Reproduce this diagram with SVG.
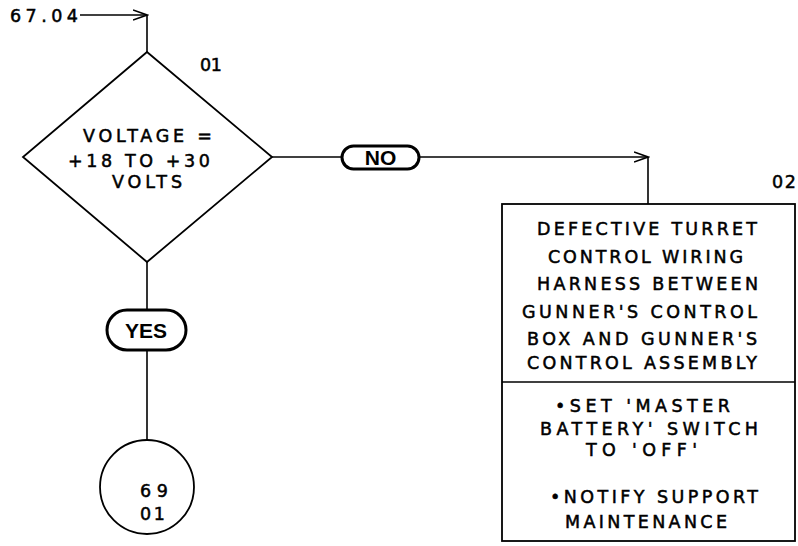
<svg xmlns="http://www.w3.org/2000/svg" width="798" height="546" viewBox="0 0 798 546">
<style>
.ln{stroke:#000;stroke-width:1.6;fill:none}
.shp{stroke:#000;stroke-width:1.8;fill:#fff}
.pill{stroke:#000;stroke-width:3;fill:#fff}
.t{font-family:"DejaVu Sans","Liberation Sans",Arial,sans-serif;font-size:17.5px;fill:#000;stroke:#000;stroke-width:0.5}
.tb{font-family:"Liberation Sans",Arial,sans-serif;font-size:21px;font-weight:bold;fill:#000;text-anchor:middle}
</style>
<defs>
<marker id="arr" markerUnits="userSpaceOnUse" markerWidth="16" markerHeight="12" refX="14" refY="6" orient="auto">
<path d="M0,1 L14,6 L0,11" fill="none" stroke="#000" stroke-width="1.6"/>
</marker>
</defs>
<rect width="798" height="546" fill="#fff"/>
<g id="connectors">
<line class="ln" x1="80" y1="15" x2="147" y2="15" marker-end="url(#arr)"/>
<line class="ln" x1="147" y1="15" x2="147" y2="52"/>
<line class="ln" x1="272" y1="157" x2="342" y2="157"/>
<line class="ln" x1="419" y1="157" x2="648" y2="157" marker-end="url(#arr)"/>
<line class="ln" x1="648" y1="157" x2="648" y2="204"/>
<line class="ln" x1="147" y1="262" x2="147" y2="310"/>
<line class="ln" x1="147" y1="350" x2="147" y2="440"/>
</g>
<g id="entry">
<text class="t" x="10" y="22" textLength="68">67.04</text>
</g>
<g id="n01">
<polygon class="shp" points="147,52 272,157 147,262 23,157"/>
<text class="t" x="200" y="71" textLength="22">01</text>
<text class="t" x="83" y="142" textLength="129">VOLTAGE =</text>
<text class="t" x="68" y="167" textLength="142">+18 TO +30</text>
<text class="t" x="112" y="188" textLength="70">VOLTS</text>
</g>
<g id="no">
<rect class="pill" x="342" y="146" width="77" height="23" rx="11.5"/>
<text class="tb" x="380.5" y="165">NO</text>
</g>
<g id="yes">
<rect class="pill" x="107" y="310" width="79" height="40" rx="20"/>
<text class="tb" x="146" y="338" font-size="22">YES</text>
</g>
<g id="n69">
<circle class="shp" cx="147" cy="487" r="47"/>
<text class="t" x="140" y="497" textLength="28">69</text>
<text class="t" x="140" y="520" textLength="25">01</text>
</g>
<g id="n02">
<text class="t" x="772" y="188" textLength="24">02</text>
<rect class="shp" x="502" y="204" width="293" height="337"/>
<line class="ln" x1="502" y1="382" x2="795" y2="382"/>
<text class="t" x="537" y="235" textLength="220">DEFECTIVE TURRET</text>
<text class="t" x="548" y="263" textLength="195">CONTROL WIRING</text>
<text class="t" x="537" y="290" textLength="221">HARNESS BETWEEN</text>
<text class="t" x="522" y="318" textLength="235">GUNNER'S CONTROL</text>
<text class="t" x="527" y="345" textLength="230">BOX AND GUNNER'S</text>
<text class="t" x="527" y="369" textLength="230">CONTROL ASSEMBLY</text>
<text class="t" x="555" y="412" textLength="175">•SET 'MASTER</text>
<text class="t" x="540" y="435" textLength="218">BATTERY' SWITCH</text>
<text class="t" x="586" y="456" textLength="111">TO 'OFF'</text>
<text class="t" x="550" y="503" textLength="208">•NOTIFY SUPPORT</text>
<text class="t" x="565" y="528" textLength="162">MAINTENANCE</text>
</g>
</svg>
